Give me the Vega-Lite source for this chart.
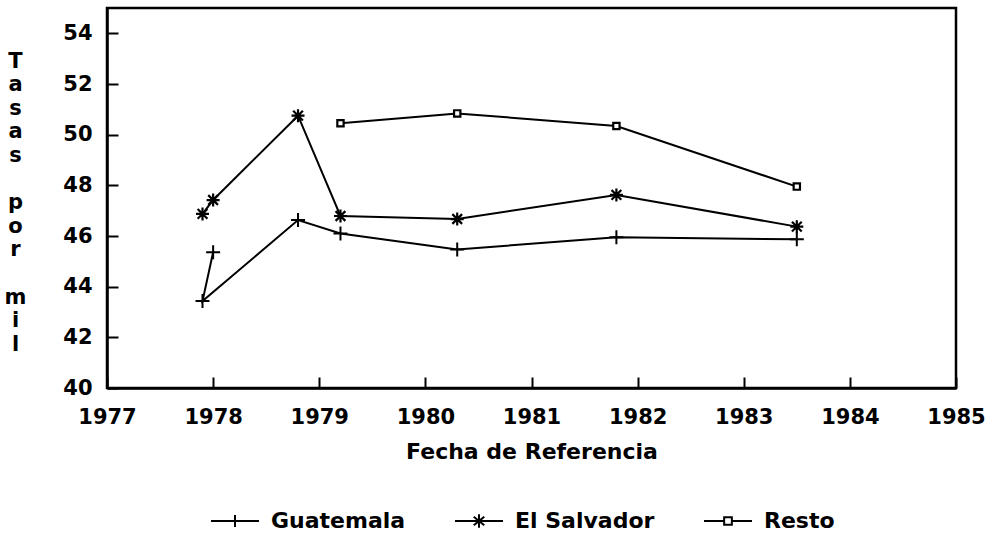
{
  "$schema": "https://vega.github.io/schema/vega-lite/v6.json",
  "width": 849,
  "height": 380,
  "autosize": "none",
  "padding": {"left": 107, "top": 8, "right": 36, "bottom": 150},
  "background": "white",
  "config": {
    "font": "DejaVu Sans",
    "view": {"stroke": "black", "strokeWidth": 2.5},
    "axis": {"grid": false, "domainColor": "black", "domainWidth": 2.5, "tickColor": "black", "tickWidth": 2, "labelFont": "DejaVu Sans", "labelFontWeight": "bold", "labelFontSize": 21, "labelColor": "black", "titleFont": "DejaVu Sans", "titleFontWeight": "bold", "titleFontSize": 22, "titleColor": "black"}
  },
  "data": {
    "values": [
      {"series": "Guatemala", "ord": 1, "fecha": 1978.0, "tasa": 45.36},
      {"series": "Guatemala", "ord": 2, "fecha": 1977.9, "tasa": 43.43},
      {"series": "Guatemala", "ord": 3, "fecha": 1978.8, "tasa": 46.63},
      {"series": "Guatemala", "ord": 4, "fecha": 1979.2, "tasa": 46.1},
      {"series": "Guatemala", "ord": 5, "fecha": 1980.3, "tasa": 45.47},
      {"series": "Guatemala", "ord": 6, "fecha": 1981.8, "tasa": 45.95},
      {"series": "Guatemala", "ord": 7, "fecha": 1983.5, "tasa": 45.87},
      {"series": "El Salvador", "ord": 1, "fecha": 1977.9, "tasa": 46.87},
      {"series": "El Salvador", "ord": 2, "fecha": 1978.0, "tasa": 47.42},
      {"series": "El Salvador", "ord": 3, "fecha": 1978.8, "tasa": 50.75},
      {"series": "El Salvador", "ord": 4, "fecha": 1979.2, "tasa": 46.79},
      {"series": "El Salvador", "ord": 5, "fecha": 1980.3, "tasa": 46.67},
      {"series": "El Salvador", "ord": 6, "fecha": 1981.8, "tasa": 47.62},
      {"series": "El Salvador", "ord": 7, "fecha": 1983.5, "tasa": 46.37},
      {"series": "Resto", "ord": 1, "fecha": 1979.2, "tasa": 50.45},
      {"series": "Resto", "ord": 2, "fecha": 1980.3, "tasa": 50.84},
      {"series": "Resto", "ord": 3, "fecha": 1981.8, "tasa": 50.34},
      {"series": "Resto", "ord": 4, "fecha": 1983.5, "tasa": 47.95}
    ]
  },
  "encoding": {
    "x": {
      "field": "fecha", "type": "quantitative",
      "scale": {"domain": [1977, 1985], "nice": false, "zero": false},
      "axis": {"values": [1977, 1978, 1979, 1980, 1981, 1982, 1983, 1984, 1985], "format": "d", "tickSize": -11, "labelPadding": 29, "labelFlush": false, "title": "Fecha de Referencia", "titlePadding": 14}
    },
    "y": {
      "field": "tasa", "type": "quantitative",
      "scale": {"domain": [40, 55], "nice": false, "zero": false},
      "axis": {"values": [40, 42, 44, 46, 48, 50, 52, 54], "tickSize": -11, "labelPadding": 26, "title": ["T", "a", "s", "a", "s", "\u200b", "p", "o", "r", "\u200b", "m", "i", "l"], "titleAngle": 0, "titleFontSize": 21, "titleLineHeight": 23.6, "titleAlign": "center", "titleBaseline": "middle", "titleX": -92, "titleY": 53}
    }
  },
  "layer": [
    {
      "mark": {"type": "line", "color": "black", "strokeWidth": 2},
      "encoding": {
        "detail": {"field": "series"},
        "order": {"field": "ord", "type": "quantitative"}
      }
    },
    {
      "transform": [{"filter": "datum.series === 'Guatemala'"}],
      "mark": {"type": "point", "shape": "M-1,0L1,0M0,-1L0,1", "filled": true, "fill": "white", "stroke": "black", "strokeWidth": 2, "size": 196, "opacity": 1}
    },
    {
      "transform": [{"filter": "datum.series === 'El Salvador'"}],
      "mark": {"type": "point", "shape": "M-1,0L1,0M0,-1L0,1M-0.75,-0.75L0.75,0.75M-0.75,0.75L0.75,-0.75", "filled": true, "fill": "white", "stroke": "black", "strokeWidth": 2.2, "size": 169, "opacity": 1}
    },
    {
      "transform": [{"filter": "datum.series === 'Resto'"}],
      "mark": {"type": "point", "shape": "M-0.45,-0.45L0.45,-0.45L0.45,0.45L-0.45,0.45Z", "filled": true, "fill": "white", "stroke": "black", "strokeWidth": 2.2, "size": 196, "opacity": 1}
    },
    {
      "transform": [{"filter": "datum.ord < 0"}],
      "mark": {"type": "point", "filled": false, "color": "black", "strokeWidth": 2, "opacity": 1},
      "encoding": {
        "shape": {
          "field": "series", "type": "nominal",
          "scale": {
            "domain": ["Guatemala", "El Salvador", "Resto"],
            "range": [
              "M-1,0L1,0M0,-0.25L0,0.25",
              "M-1,0L1,0M0,-0.28L0,0.28M-0.22,-0.18L0.22,0.18M-0.22,0.18L0.22,-0.18",
              "M-1,0L-0.16,0M0.16,0L1,0M-0.16,-0.16L0.16,-0.16L0.16,0.16L-0.16,0.16Z"
            ]
          },
          "legend": {
            "title": null,
            "orient": "none",
            "direction": "horizontal",
            "legendX": 103,
            "legendY": 488,
            "padding": 0,
            "columnPadding": 45,
            "symbolSize": 2304,
            "symbolStrokeWidth": 2,
            "symbolStrokeColor": "black",
            "symbolOpacity": 1,
            "labelOffset": 11,
            "labelFont": "DejaVu Sans",
            "labelFontWeight": "bold",
            "labelFontSize": 22,
            "labelColor": "black",
            "encode": {
              "symbols": {
                "update": {
                  "stroke": {"value": "black"},
                  "strokeWidth": {"value": 2},
                  "opacity": {"value": 1},
                  "strokeOpacity": {"value": 1}
                }
              }
            }
          }
        }
      }
    }
  ]
}
